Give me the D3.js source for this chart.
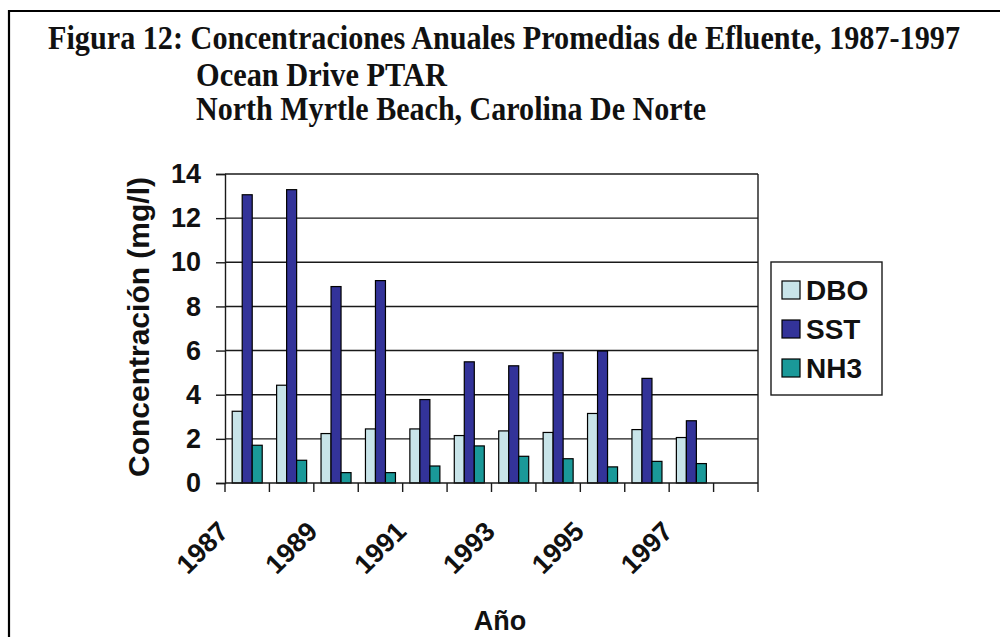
<!DOCTYPE html>
<html>
<head>
<meta charset="utf-8">
<script src="https://cdn.jsdelivr.net/npm/d3@7"></script>
<style>
  html, body { margin: 0; padding: 0; background: #fff; }
  svg { display: block; }
</style>
</head>
<body>
<svg id="chart" width="1000" height="637"></svg>
<script>
// Annual average effluent concentrations, Ocean Drive WWTP (1987-1997)
const years = ["1987","1988","1989","1990","1991","1992","1993","1994","1995","1996","1997","1998"];
const seriesNames = ["DBO","SST","NH3"];
const dbo = [3.25, 4.43, 2.24, 2.45, 2.45, 2.15, 2.36, 2.29, 3.15, 2.42, 2.06, null];
const sst = [13.06, 13.29, 8.90, 9.17, 3.78, 5.49, 5.31, 5.90, 5.98, 4.74, 2.82, null];
const nh3 = [1.71, 1.03, 0.47, 0.47, 0.77, 1.68, 1.21, 1.10, 0.73, 0.98, 0.88, null];
const yTicks = [0, 2, 4, 6, 8, 10, 12, 14];
const xTickLabels = ["1987","1989","1991","1993","1995","1997"];
const titleLines = [
  "Figura 12: Concentraciones Anuales Promedias de Efluente, 1987-1997",
  "Ocean Drive PTAR",
  "North Myrtle Beach, Carolina De Norte"
];

const colors = { DBO: "#c8e4e9", SST: "#333399", NH3: "#1a9999" };
const values = { DBO: dbo, SST: sst, NH3: nh3 };
const sans = "'Liberation Sans', Arial, sans-serif";

const svg = d3.select("#chart");

// outer frame: top and left rules
svg.append("line").attr("x1", 9).attr("y1", 11).attr("x2", 1000).attr("y2", 11)
  .attr("stroke", "#000").attr("stroke-width", 2.2);
svg.append("line").attr("x1", 9).attr("y1", 10).attr("x2", 9).attr("y2", 637)
  .attr("stroke", "#000").attr("stroke-width", 2.2);

// title block: serif, stretched vertically for a condensed look
const titleSpec = [
  { x: 48, y: 49, len: 912 },
  { x: 196, y: 86, len: 251 },
  { x: 196, y: 120, len: 510 }
];
titleLines.forEach((t, i) => {
  svg.append("text")
    .attr("transform", `translate(${titleSpec[i].x},${titleSpec[i].y}) scale(1,1.17)`)
    .attr("font-family", "'Liberation Serif', 'Times New Roman', serif")
    .attr("font-weight", "bold").attr("font-size", 28)
    .attr("textLength", titleSpec[i].len).attr("lengthAdjust", "spacingAndGlyphs")
    .attr("fill", "#111")
    .text(t);
});

// scales
const x0 = d3.scaleBand().domain(years).range([225, 758]).paddingInner(0).paddingOuter(0);
const x1 = d3.scaleBand().domain(seriesNames).range([0, x0.bandwidth()]).paddingInner(0).paddingOuter(0.72);
const y = d3.scaleLinear().domain([0, 14]).range([483, 174]);

const plot = svg.append("g");

// horizontal gridlines
plot.selectAll("line.grid").data(yTicks.filter(d => d > 0)).enter().append("line")
  .attr("class", "grid")
  .attr("x1", 225).attr("x2", 758)
  .attr("y1", d => y(d)).attr("y2", d => y(d))
  .attr("stroke", "#1a1a1a").attr("stroke-width", 1.4);

// right edge of plot area
plot.append("line").attr("x1", 758).attr("x2", 758).attr("y1", y(14)).attr("y2", y(0))
  .attr("stroke", "#1a1a1a").attr("stroke-width", 1.4);

// bars
const groups = plot.selectAll("g.year").data(years).enter().append("g")
  .attr("class", "year")
  .attr("transform", d => `translate(${x0(d)},0)`);

groups.selectAll("rect")
  .data((d, i) => seriesNames.map(s => ({ s, v: values[s][i] })).filter(e => e.v != null))
  .enter().append("rect")
  .attr("x", e => x1(e.s))
  .attr("width", x1.bandwidth())
  .attr("y", e => y(e.v))
  .attr("height", e => y(0) - y(e.v))
  .attr("fill", e => colors[e.s])
  .attr("stroke", "#000").attr("stroke-width", 1.2);

// y axis
const yAxis = d3.axisLeft(y).tickValues(yTicks).tickSize(9).tickPadding(15).tickFormat(d3.format("d"));
const yg = svg.append("g").attr("transform", "translate(225,0)").call(yAxis);
yg.select(".domain").attr("stroke", "#1a1a1a").attr("stroke-width", 1.4);
yg.selectAll(".tick line").attr("stroke", "#1a1a1a").attr("stroke-width", 1.4);
yg.selectAll(".tick text")
  .attr("font-family", sans)
  .attr("font-weight", "bold").attr("font-size", 27).attr("fill", "#111");

// x axis line and category boundary ticks
const xBounds = years.map(d => x0(d)).concat([x0(years[years.length - 1]) + x0.bandwidth()]);
svg.append("line").attr("x1", 225).attr("x2", 758).attr("y1", y(0)).attr("y2", y(0))
  .attr("stroke", "#1a1a1a").attr("stroke-width", 1.6);
svg.selectAll("line.xtick").data(xBounds).enter().append("line")
  .attr("class", "xtick")
  .attr("x1", d => d).attr("x2", d => d)
  .attr("y1", y(0)).attr("y2", y(0) + 9)
  .attr("stroke", "#1a1a1a").attr("stroke-width", 1.4);

// rotated year labels
svg.selectAll("text.xlab").data(xTickLabels).enter().append("text")
  .attr("class", "xlab")
  .attr("transform", d => `translate(${x0(d) + x0.bandwidth() / 2 - 17},533) rotate(-45)`)
  .attr("text-anchor", "end")
  .attr("font-family", sans)
  .attr("font-weight", "bold").attr("font-size", 27).attr("fill", "#111")
  .text(d => d);

// axis titles
svg.append("text")
  .attr("transform", "translate(149,327) rotate(-90)")
  .attr("text-anchor", "middle")
  .attr("font-family", sans)
  .attr("font-weight", "bold").attr("font-size", 30).attr("fill", "#111")
  .text("Concentración (mg/l)");

svg.append("text")
  .attr("x", 500).attr("y", 630)
  .attr("text-anchor", "middle")
  .attr("font-family", sans)
  .attr("font-weight", "bold").attr("font-size", 27).attr("fill", "#111")
  .text("Año");

// legend
const legend = svg.append("g");
legend.append("rect").attr("x", 771).attr("y", 262).attr("width", 111).attr("height", 133)
  .attr("fill", "#fff").attr("stroke", "#1a1a1a").attr("stroke-width", 1.4);
const legendY = d3.scalePoint().domain(seriesNames).range([290, 368]);
const items = legend.selectAll("g.item").data(seriesNames).enter().append("g")
  .attr("class", "item")
  .attr("transform", d => `translate(0,${legendY(d)})`);
items.append("rect").attr("x", 782).attr("y", -9).attr("width", 18).attr("height", 18)
  .attr("fill", d => colors[d]).attr("stroke", "#000").attr("stroke-width", 1.2);
items.append("text").attr("x", 806).attr("y", 10)
  .attr("font-family", sans)
  .attr("font-weight", "bold").attr("font-size", 28).attr("fill", "#111")
  .text(d => d);
</script>
</body>
</html>
